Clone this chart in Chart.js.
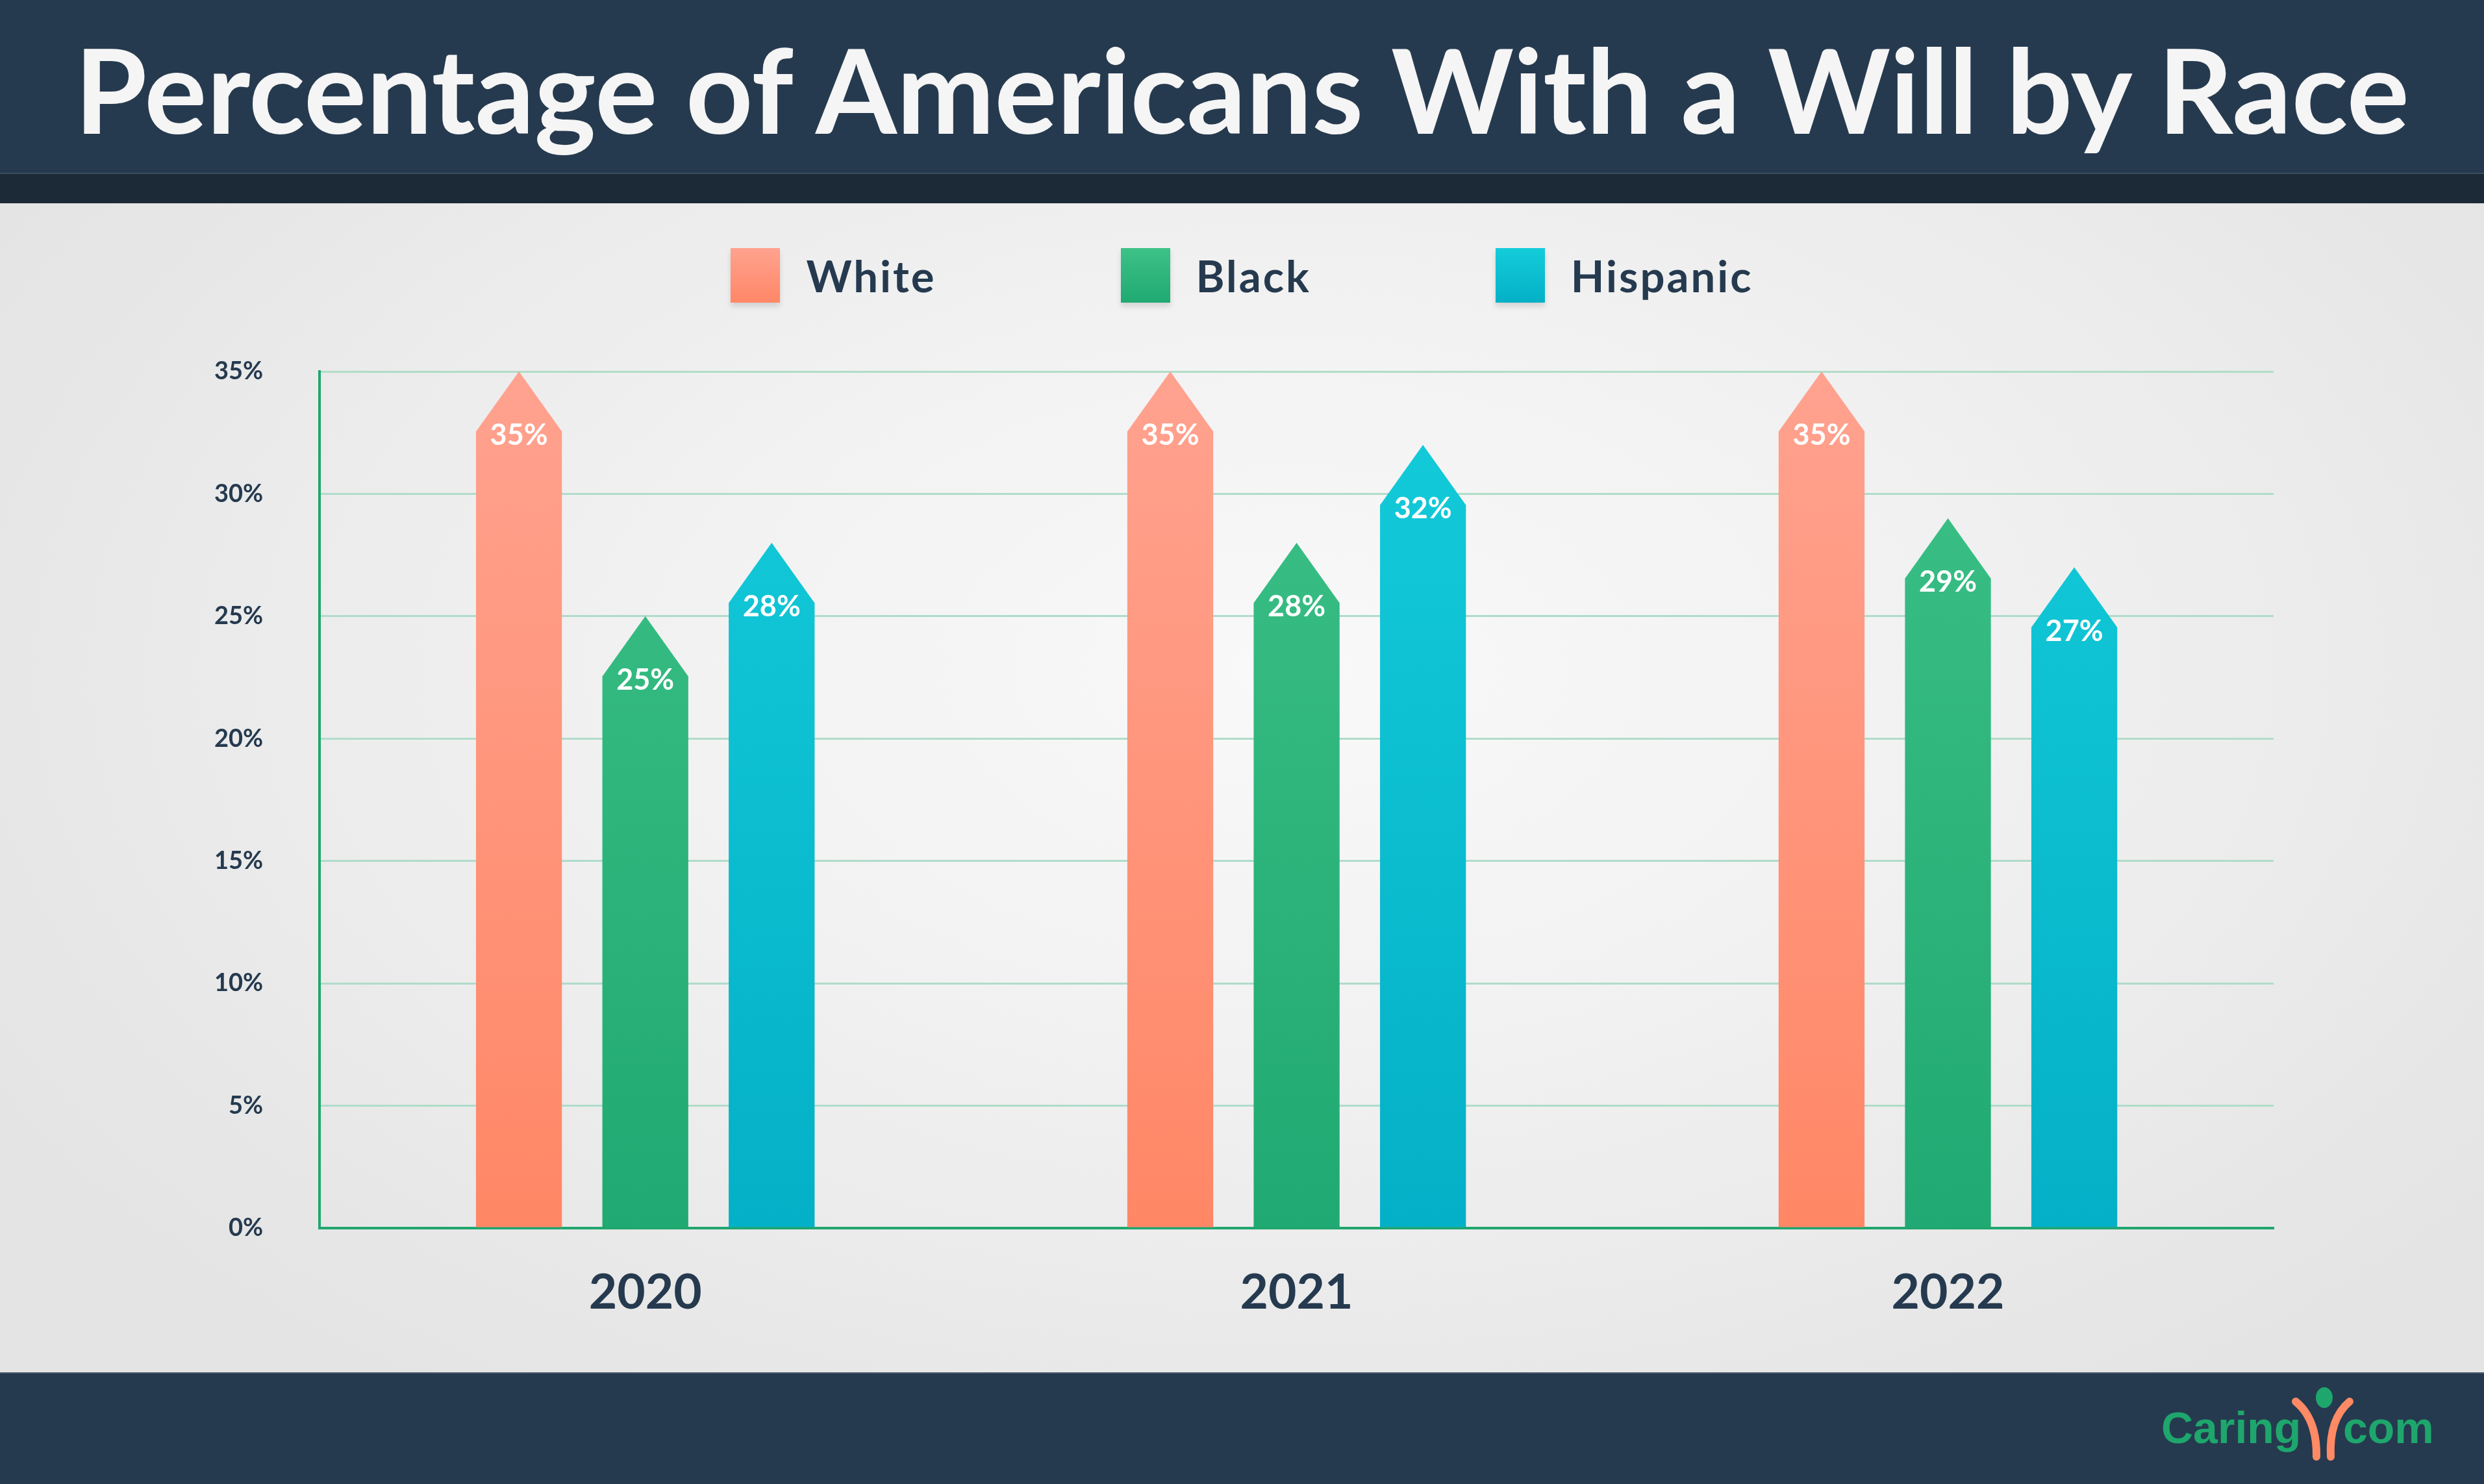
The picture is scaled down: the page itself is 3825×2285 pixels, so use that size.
<!DOCTYPE html>
<html>
<head>
<meta charset="utf-8">
<title>Percentage of Americans With a Will by Race</title>
<script src="https://cdn.jsdelivr.net/npm/chart.js@4.4.0/dist/chart.umd.min.js"></script>
<style>
    html, body { margin: 0; padding: 0; }
    body { width: 3825px; height: 2285px; position: relative; overflow: hidden; font-family: Lato, sans-serif; background: #e4e4e4; }
    .header { position: absolute; left: 0; top: 0; width: 3825px; height: 266px; background: #263a4f; }
    .header h1 { margin: 0; padding-top: 6px; color: #f5f5f5; text-align: center; font-weight: 700; font-size: 180px; line-height: 260px; }
    .strip { position: absolute; left: 0; top: 266px; width: 3825px; height: 47px; background: #1c2a37; border-top: 2px solid #3a4c5e; box-sizing: border-box; }
    .plot-bg { position: absolute; left: 0; top: 313px; width: 3825px; height: 1800px;
        background: radial-gradient(ellipse 60% 75% at 52% 40%, #f9f9f9 0%, #f1f1f1 45%, #e4e4e4 100%); }
    .footer { position: absolute; left: 0; top: 2113px; width: 3825px; height: 172px; background: #253a4f; border-top: 2px solid #4a5a6b; box-sizing: border-box; }
    #chart { position: absolute; left: 0; top: 313px; }
    .legend { position: absolute; left: 0; top: 382px; width: 3825px; height: 84px; display: flex; justify-content: center; align-items: center; gap: 284px; }
    .legend .item { display: flex; align-items: center; }
    .legend .box { width: 76px; height: 84px; box-shadow: 0 6px 8px rgba(0, 0, 0, 0.12); }
    .legend .label { margin-left: 40px; font-size: 67px; font-weight: 700; letter-spacing: 3px; color: #253a4f; }
    .logo { position: absolute; left: 3300px; top: 2113px; }
</style>
</head>
<body>
<div class="header"><h1>Percentage of Americans With a Will by Race</h1></div>
<div class="strip"></div>
<div class="plot-bg"></div>
<div class="footer"></div>
<div class="legend" id="legend"></div>
<canvas id="chart" width="3825" height="1800"></canvas>
<svg class="logo" width="480" height="172" viewBox="0 0 480 172">
    <text x="28" y="109" font-family="Liberation Sans, Arial, sans-serif" font-weight="700" font-size="68" fill="#1ea66c">Caring</text>
    <ellipse cx="279" cy="39" rx="13" ry="16" fill="#1ea66c"></ellipse>
    <path d="M235 45 Q268 72 267 130" stroke="#ff8a65" stroke-width="12" stroke-linecap="round" fill="none"></path>
    <path d="M318 45 Q286 72 289 130" stroke="#ff8a65" stroke-width="12" stroke-linecap="round" fill="none"></path>
    <text x="308" y="109" font-family="Liberation Sans, Arial, sans-serif" font-weight="700" font-size="68" fill="#1ea66c">com</text>
</svg>
<script>
    const years = ['2020', '2021', '2022'];
    const seriesNames = ['White', 'Black', 'Hispanic'];
    const whiteValues = [35, 35, 35];
    const blackValues = [25, 28, 29];
    const hispanicValues = [28, 32, 27];
    const yMax = 35;
    const yStep = 5;

    const colorsTop = ['#ffa28f', '#3dc287', '#14ccda'];
    const colorsBottom = ['#ff8766', '#20a972', '#04b0c7'];
    const textColor = '#253a4f';

    // legend
    let legend = document.getElementById('legend');
    seriesNames.forEach(function (name, i) {
        let item = document.createElement('div');
        item.className = 'item';
        item.innerHTML = '<div class="box" style="background: linear-gradient(' + colorsTop[i] + ', ' + colorsBottom[i] + ')"></div>' +
            '<div class="label">' + name + '</div>';
        legend.appendChild(item);
    });

    // bars are drawn as arrows from the bar elements the library laid out
    const arrowBars = {
        id: 'arrowBars',
        afterDatasetsDraw: function (chart) {
            let ctx = chart.ctx;
            let area = chart.chartArea;
            chart.data.datasets.forEach(function (ds, i) {
                let meta = chart.getDatasetMeta(i);
                let grad = ctx.createLinearGradient(0, area.top, 0, area.bottom);
                grad.addColorStop(0, colorsTop[i]);
                grad.addColorStop(1, colorsBottom[i]);
                meta.data.forEach(function (bar, j) {
                    let half = bar.width / 2;
                    let head = bar.width * 0.7;
                    ctx.save();
                    ctx.fillStyle = grad;
                    ctx.beginPath();
                    ctx.moveTo(bar.x - half, bar.base);
                    ctx.lineTo(bar.x - half, bar.y + head);
                    ctx.lineTo(bar.x, bar.y);
                    ctx.lineTo(bar.x + half, bar.y + head);
                    ctx.lineTo(bar.x + half, bar.base);
                    ctx.closePath();
                    ctx.fill();
                    ctx.fillStyle = '#ffffff';
                    ctx.font = 'bold 45px Lato';
                    ctx.textAlign = 'center';
                    ctx.textBaseline = 'middle';
                    ctx.fillText(ds.data[j] + '%', bar.x, bar.y + head + 6);
                    ctx.restore();
                });
            });
        }
    };

    let chart = new Chart(document.getElementById('chart'), {
        type: 'bar',
        data: {
            labels: years,
            datasets: [
                {label: seriesNames[0], data: whiteValues},
                {label: seriesNames[1], data: blackValues},
                {label: seriesNames[2], data: hispanicValues}
            ].map(function (ds) {
                ds.backgroundColor = 'rgba(0,0,0,0)';
                ds.borderWidth = 0;
                ds.barPercentage = 0.68;
                ds.categoryPercentage = 0.582;
                return ds;
            })
        },
        options: {
            responsive: false,
            animation: false,
            layout: {padding: {left: 243, right: 324, top: 259, bottom: 22}},
            plugins: {
                legend: {display: false},
                tooltip: {enabled: false}
            },
            scales: {
                x: {
                    grid: {display: false, drawTicks: false},
                    border: {display: true, color: '#1fa66e', width: 4},
                    ticks: {
                        padding: 55,
                        color: textColor,
                        font: {family: 'Lato', weight: 'bold', size: 75}
                    }
                },
                y: {
                    min: 0,
                    max: yMax,
                    grid: {color: '#b0dcc9', lineWidth: 3, drawTicks: false},
                    border: {display: true, color: '#1fa66e', width: 4},
                    ticks: {
                        stepSize: yStep,
                        padding: 87,
                        color: textColor,
                        font: {family: 'Lato', weight: 'bold', size: 38},
                        callback: function (v) { return v + '%'; }
                    }
                }
            }
        },
        plugins: [arrowBars]
    });
</script>
</body>
</html>
